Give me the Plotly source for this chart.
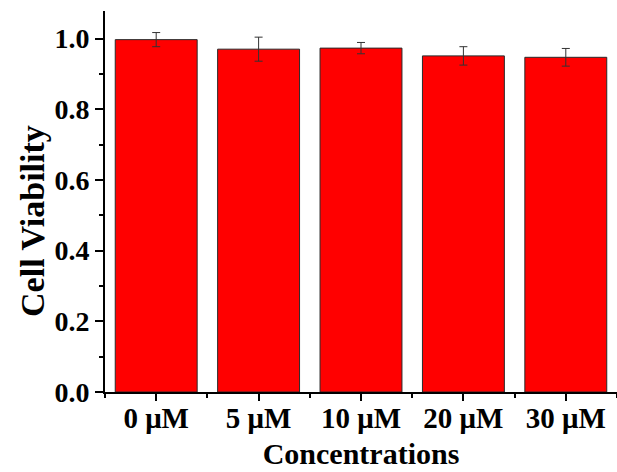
import numpy as np
import plotly.graph_objects as go

# Cell viability at each concentration (mean and standard deviation)
categories = ["0 μM", "5 μM", "10 μM", "20 μM", "30 μM"]
viability = [0.997, 0.970, 0.973, 0.951, 0.947]
viability_sd = [0.020, 0.034, 0.016, 0.026, 0.025]

positions = np.arange(len(categories))

serif = "Liberation Serif, Times New Roman, serif"

fig = go.Figure(
    go.Bar(
        x=positions,
        y=viability,
        marker=dict(color="#ff0000", line=dict(color="#2a2a2a", width=1)),
        error_y=dict(type="data", array=viability_sd, visible=True,
                     color="#333333", thickness=1, width=4),
    )
)

fig.update_layout(
    width=617,
    height=472,
    margin=dict(l=105, r=0, t=11, b=80),
    plot_bgcolor="white",
    paper_bgcolor="white",
    bargap=0.2,
    showlegend=False,
    font=dict(family=serif, color="black"),
)

fig.update_xaxes(
    range=[-0.5, len(categories) - 0.5],
    tickvals=positions,
    ticktext=categories,
    ticks="outside",
    ticklen=7,
    tickwidth=2,
    tickcolor="black",
    minor=dict(tick0=0.5, dtick=1, ticks="outside", ticklen=4, tickwidth=2,
               tickcolor="black"),
    showline=True,
    linecolor="black",
    linewidth=2,
    showgrid=False,
    zeroline=False,
    ticklabelstandoff=-8,
    tickfont=dict(family=serif, size=29, weight="bold"),
    title=dict(text="Concentrations", font=dict(family=serif, size=30, weight="bold"),
               standoff=10),
)

fig.update_yaxes(
    range=[0, 1.078],
    tick0=0,
    dtick=0.2,
    tickformat=".1f",
    ticks="outside",
    ticklen=8,
    tickwidth=2,
    tickcolor="black",
    minor=dict(dtick=0.1, ticks="outside", ticklen=4, tickwidth=2, tickcolor="black"),
    showline=True,
    linecolor="black",
    linewidth=2,
    showgrid=False,
    zeroline=False,
    tickfont=dict(family=serif, size=28, weight="bold"),
)

# Vertical y-axis title, placed in paper coordinates left of the tick labels
fig.add_annotation(
    text="Cell Viability",
    xref="paper", yref="paper",
    x=-0.1406, y=0.449,
    xanchor="center", yanchor="middle",
    textangle=-90,
    showarrow=False,
    font=dict(family=serif, size=34, weight="bold", color="black"),
)

fig.write_html("out.html")
